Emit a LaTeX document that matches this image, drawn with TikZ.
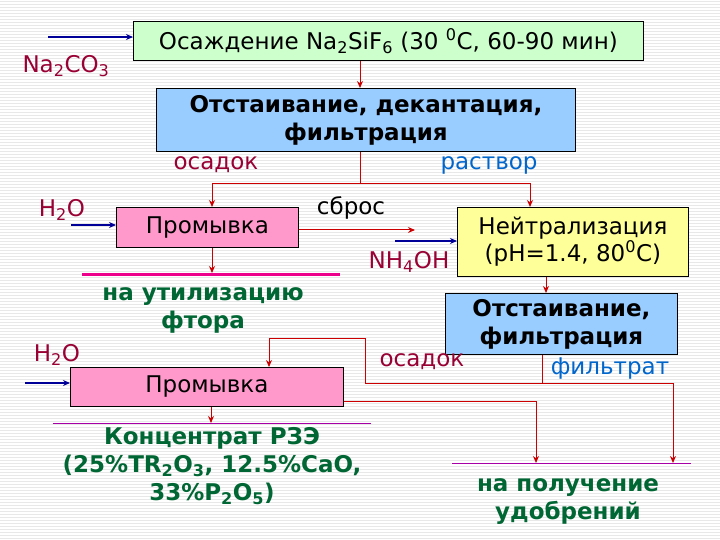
\documentclass[tikz,border=0pt]{standalone}
\usepackage{fontspec}
\setmainfont{DejaVu Sans}
\usetikzlibrary{arrows.meta}
\definecolor{dred}{HTML}{990033}
\definecolor{tblue}{HTML}{0066CC}
\definecolor{tgreen}{HTML}{006633}
\definecolor{ared}{HTML}{CC0000}
\definecolor{ablue}{HTML}{000099}
\definecolor{fgreen}{HTML}{CCFFCC}
\definecolor{fblue}{HTML}{99CCFF}
\definecolor{fpink}{HTML}{FF99CC}
\definecolor{fyellow}{HTML}{FFFF99}
\newcommand{\sbs}[1]{\textsubscript{#1}}
\newcommand{\sps}[1]{\textsuperscript{#1}}
\begin{document}
\begin{tikzpicture}[x=1pt,y=-1pt,
 box/.style={draw=black,line width=0.8pt,anchor=north west,inner sep=0pt},
 txt/.style={font=\fontsize{23}{27}\selectfont,align=center},
 btxt/.style={font=\fontsize{23}{28}\selectfont\bfseries,align=center},
 rarr/.style={draw=ared,line width=1pt,-{Stealth[length=7pt,width=6pt]}},
 barr/.style={draw=ablue,line width=1.2pt,-{Stealth[length=7pt,width=6pt]}},
 rline/.style={draw=ared,line width=1pt}]
\useasboundingbox (0,0) rectangle (720,540);
\fill[white] (0,0) rectangle (720,540);
\foreach \y in {1,4,...,540} \draw[gray!18,line width=0.6pt] (0,\y) -- (720,\y);
% boxes
\node[box,fill=fgreen,minimum width=510pt,minimum height=39pt] (b1) at (133,21) {};
\node[txt] at (b1.center) {Осаждение Na\sbs{2}SiF\sbs{6} (30 \sps{0}C, 60-90 мин)};
\node[box,fill=fblue,minimum width=419pt,minimum height=63pt] (b2) at (156,88) {};
\node[btxt] at (b2.center) {Отстаивание, декантация,\\фильтрация};
\node[box,fill=fpink,minimum width=182pt,minimum height=40pt] (p1) at (116,207) {};
\node[txt] at (p1.center) {Промывка};
\node[box,fill=fyellow,minimum width=231pt,minimum height=69pt] (y1) at (457,207) {};
\node[txt] at (y1.center) {Нейтрализация\\(pH=1.4, 80\sps{0}C)};
\node[box,fill=fblue,minimum width=232pt,minimum height=61pt] (b3) at (445,293) {};
\node[btxt] at (b3.center) {Отстаивание,\\фильтрация};
\node[box,fill=fpink,minimum width=273pt,minimum height=39pt] (p2) at (70,367) {};
\node[txt] at (p2.center) {Промывка};
% labels
\node[txt,text=dred] (na) at (66,66) {Na\sbs{2}CO\sbs{3}};
\node[txt,text=dred] (os1) at (216,165) {осадок};
\node[txt,text=tblue] (ra) at (489,165) {раствор};
\node[txt,text=dred] (h1) at (62,210) {H\sbs{2}O};
\node[txt] (sb) at (351,208) {сброс};
\node[txt,text=dred] (nh) at (409,262) {NH\sbs{4}OH};
\node[btxt,text=tgreen] (ut) at (203,310) {на утилизацию\\фтора};
\node[txt,text=dred] (h2) at (57,355) {H\sbs{2}O};
\node[txt,text=dred] (os2) at (422,362) {осадок};
\node[txt,text=tblue] (fi) at (610,369) {фильтрат};
\node[btxt,text=tgreen] (kc) at (212,466) {Концентрат РЗЭ\\(25\%TR\sbs{2}O\sbs{3}, 12.5\%CaO,\\33\%P\sbs{2}O\sbs{5})};
\node[btxt,text=tgreen] (ud) at (568,502) {на получение\\удобрений};
% coordinates
\coordinate (na0) at (48,37);
\coordinate (h10) at (71,225);
\coordinate (h20) at (25,383);
\coordinate (nh0) at (395,241);
\coordinate (sbe) at (415,230);
\coordinate (j1) at (360,184);
\coordinate (j2) at (542,383);
\coordinate (l1) at (365,338);
\coordinate (u1) at (212,273);
\coordinate (kc1) at (211,423);
\coordinate (f1) at (536,463);
\coordinate (f2) at (673,463);
% connectors
\draw[barr] (na0) -- (na0 -| b1.west);
\draw[rarr] (b1.south -| j1) -- (b2.north -| j1);
\draw[rline] (b2.south -| j1) -- (j1);
\draw[rarr] (j1) -| (p1.north -| 212,0);
\draw[rarr] (j1) -| (y1.north -| 530,0);
\draw[barr] (h10) -- (h10 -| p1.west);
\draw[rarr] (p1.east |- sbe) -- (sbe);
\draw[barr] (nh0) -- (nh0 -| y1.west);
\draw[rarr] (p1.south -| u1) -- (u1);
\draw[magenta,line width=3pt] (82,274) -- (340,274);
\draw[rarr] (y1.south -| 546,0) -- (b3.north -| 546,0);
\draw[rarr] (j2) -| (f2);
\draw[rline] (b3.south -| j2) -- (j2);
\draw[rline] (j2) -- (365,383) -- (l1);
\draw[rarr] (l1) -| (p2.north -| 269,0);
\draw[barr] (h20) -- (h20 -| p2.west);
\draw[rarr] (p2.east |- 0,401) -| (f1);
\draw[rarr] (p2.south -| kc1) -- (kc1);
\draw[violet!70!magenta,line width=0.8pt] (53,423) -- (371,423);
\draw[violet!70!magenta,line width=0.8pt] (452,463) -- (691,463);
\end{tikzpicture}
\end{document}
